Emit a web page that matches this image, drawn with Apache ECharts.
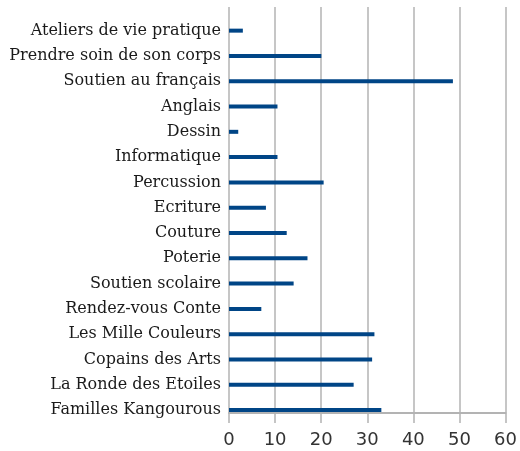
<!DOCTYPE html>
<html><head><meta charset="utf-8">
<script src="https://cdn.jsdelivr.net/npm/echarts@6/dist/echarts.min.js"></script>
<style>html,body{margin:0;padding:0;background:#fff}#c{width:520px;height:451px}</style>
</head><body><div id="c"></div>
<script>
const categories = ['Ateliers de vie pratique','Prendre soin de son corps','Soutien au français','Anglais','Dessin','Informatique','Percussion','Ecriture','Couture','Poterie','Soutien scolaire','Rendez-vous Conte','Les Mille Couleurs','Copains des Arts','La Ronde des Etoiles','Familles Kangourous'];
const values = [3,20,48.5,10.5,2,10.5,20.5,8,12.5,17,14,7,31.5,31,27,33];
const xTicks = [0,10,20,30,40,50,60];

const chart = echarts.init(document.getElementById('c'), null, {renderer:'canvas'});
chart.setOption({
  animation:false,
  backgroundColor:'#ffffff',
  grid:[
    {left:229, right:14, top:18, bottom:28.3, containLabel:false},
    {left:229, right:14, top:7, bottom:38, containLabel:false}
  ],
  xAxis:[
    {gridIndex:0, type:'value', min:xTicks[0], max:xTicks[xTicks.length-1], interval:10, show:false},
    {gridIndex:1, type:'value', min:xTicks[0], max:xTicks[xTicks.length-1], interval:10,
     axisLine:{show:true, onZero:false, lineStyle:{color:'#b3b3b3', width:2}},
     axisTick:{show:true, length:10, lineStyle:{color:'#b3b3b3', width:1.5}},
     splitLine:{show:true, lineStyle:{color:'#b3b3b3', width:1.5}},
     axisLabel:{margin:18, fontFamily:'DejaVu Sans', fontSize:18, color:'#333333'}}
  ],
  yAxis:[
    {gridIndex:0, type:'category', data:categories, inverse:true,
     axisLine:{show:false}, axisTick:{show:false}, splitLine:{show:false},
     axisLabel:{margin:8, fontFamily:'DejaVu Serif', fontSize:16, color:'#1a1a1a'}},
    {gridIndex:1, type:'value', min:0, max:1, show:false}
  ],
  series:[{
    type:'bar', xAxisIndex:0, yAxisIndex:0, data:values, barWidth:4,
    itemStyle:{color:'#004586'}, z:5
  }]
});
</script></body></html>
